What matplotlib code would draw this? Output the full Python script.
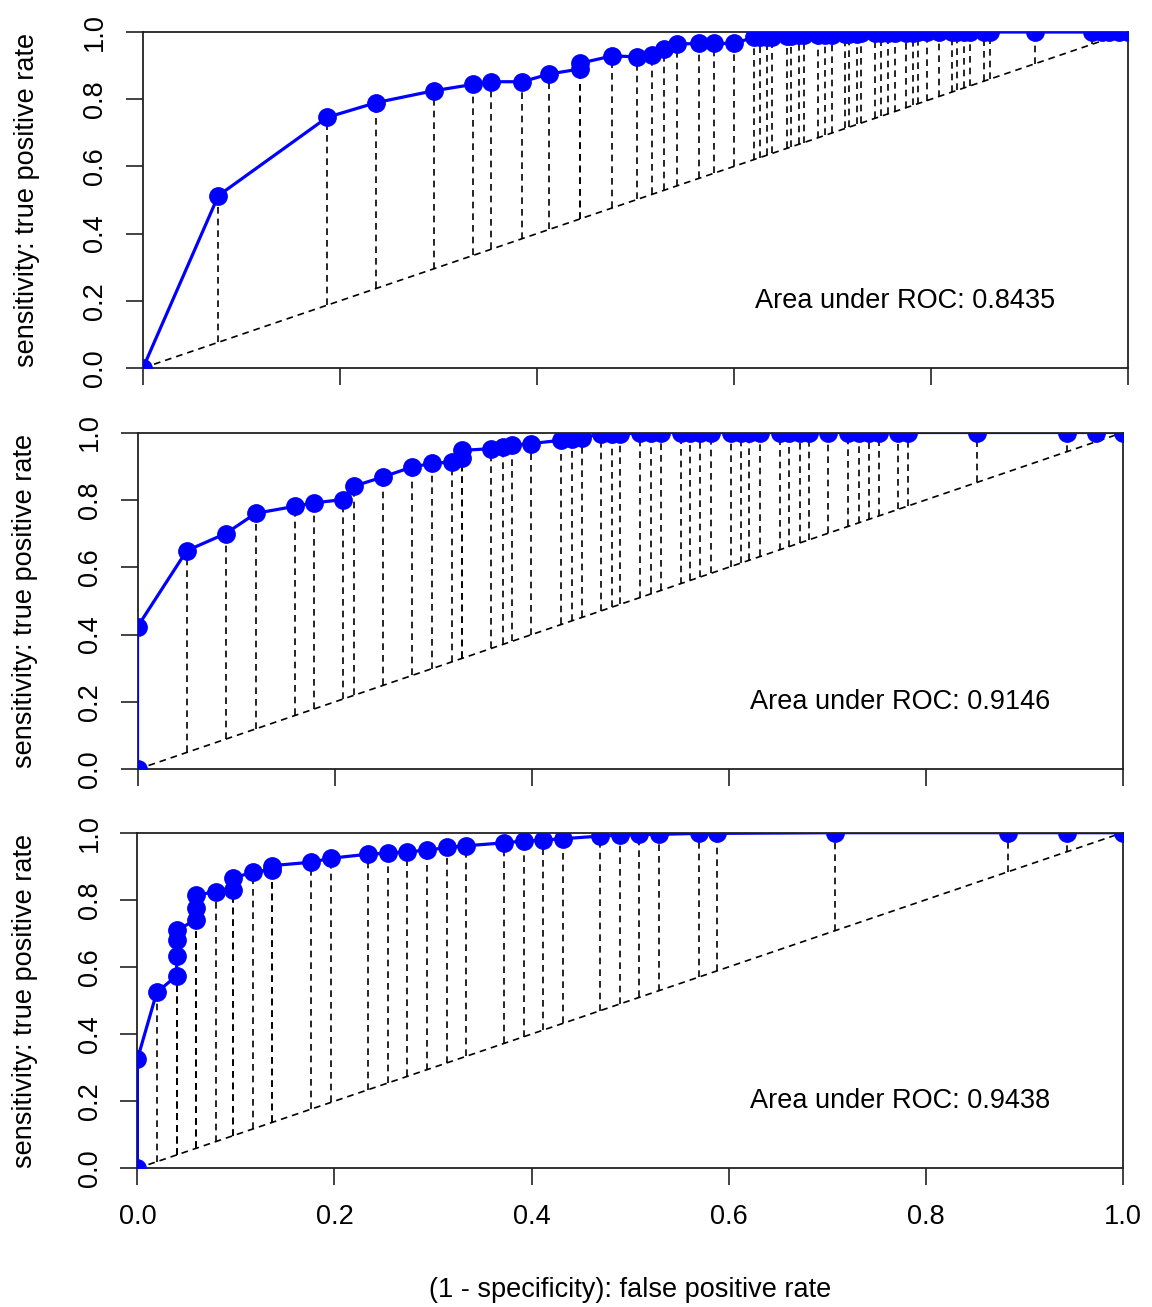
import numpy as np
import matplotlib
matplotlib.use("Agg")
import matplotlib.pyplot as plt

plt.rcParams['font.family'] = ['Liberation Sans', 'DejaVu Sans']

# panel 1
fpr1 = [0.0, 0.0765, 0.187, 0.237, 0.295, 0.335, 0.353, 0.385, 0.4125, 0.4437, 0.4437,
        0.4765, 0.502, 0.517, 0.529, 0.542, 0.564, 0.580, 0.600, 0.620, 0.626, 0.634,
        0.639, 0.654, 0.658, 0.666, 0.671, 0.685, 0.692, 0.699, 0.713, 0.717, 0.725,
        0.729, 0.743, 0.749, 0.756, 0.763, 0.775, 0.782, 0.787, 0.796, 0.808, 0.821,
        0.826, 0.833, 0.840, 0.854, 0.860, 0.906, 0.963, 0.9735, 0.9805, 0.991, 1.0]
tpr1 = [0.0, 0.513, 0.746, 0.790, 0.825, 0.844, 0.852, 0.852, 0.875, 0.890, 0.907,
        0.929, 0.926, 0.933, 0.948, 0.964, 0.966, 0.966, 0.966, 0.984, 0.984, 0.986,
        0.986, 0.988, 0.988, 0.990, 0.990, 0.990, 0.992, 0.992, 0.994, 0.994, 0.994,
        0.996, 0.996, 0.996, 0.998, 0.998, 0.998, 0.998, 1.0, 1.0, 1.0, 1.0,
        1.0, 1.0, 1.0, 1.0, 1.0, 1.0, 1.0, 1.0, 1.0, 1.0, 1.0]

# panel 2
fpr2 = [0.0, 0.0, 0.0499, 0.0895, 0.120, 0.160, 0.179, 0.209, 0.220, 0.249, 0.279,
        0.299, 0.3195, 0.3296, 0.3296, 0.359, 0.3706, 0.380, 0.399, 0.430, 0.441,
        0.451, 0.470, 0.481, 0.490, 0.510, 0.521, 0.531, 0.551, 0.561, 0.571, 0.582,
        0.602, 0.612, 0.621, 0.632, 0.652, 0.661, 0.672, 0.681, 0.701, 0.721, 0.732,
        0.742, 0.752, 0.772, 0.782, 0.852, 0.943, 0.973, 1.0]
tpr2 = [0.0, 0.423, 0.649, 0.700, 0.760, 0.781, 0.791, 0.801, 0.841, 0.868, 0.898,
        0.908, 0.913, 0.925, 0.947, 0.952, 0.957, 0.962, 0.967, 0.977, 0.982,
        0.985, 0.995, 0.995, 0.995, 1.0, 1.0, 1.0, 1.0, 1.0, 1.0, 1.0,
        1.0, 1.0, 1.0, 1.0, 1.0, 1.0, 1.0, 1.0, 1.0, 1.0, 1.0,
        1.0, 1.0, 1.0, 1.0, 1.0, 1.0, 1.0, 1.0]

# panel 3
fpr3 = [0.0, 0.0, 0.0196, 0.0399, 0.0399, 0.0399, 0.0399, 0.0595, 0.0595, 0.0595,
        0.0794, 0.0974, 0.0974, 0.1177, 0.137, 0.137, 0.1762, 0.1965, 0.2344, 0.254,
        0.274, 0.2942, 0.3145, 0.334, 0.3724, 0.3922, 0.4117, 0.4317, 0.4699, 0.4899,
        0.5094, 0.5294, 0.5698, 0.5884, 0.7082, 0.8838, 0.9433, 1.0]
tpr3 = [0.0, 0.325, 0.524, 0.574, 0.634, 0.680, 0.710, 0.740, 0.775, 0.814,
        0.824, 0.829, 0.864, 0.884, 0.890, 0.902, 0.912, 0.924, 0.936, 0.939,
        0.943, 0.948, 0.956, 0.961, 0.970, 0.975, 0.978, 0.982, 0.990, 0.993,
        0.995, 0.995, 0.998, 0.998, 1.0, 1.0, 1.0, 1.0]

aucs = [0.8435, 0.9146, 0.9438]

W, H = 1152, 1307
# axes boxes in pixels: left, top, right, bottom
boxes = [(143, 32, 1128, 368), (137.5, 432.5, 1123, 769.3), (137.4, 832.7, 1122.7, 1168.3)]
ylabel_x = [27, 25, 25]

fs = 19.5
dash = (0, (4, 3))
fig = plt.figure(figsize=(W / 100, H / 100), dpi=100)

panels = [(fpr1, tpr1), (fpr2, tpr2), (fpr3, tpr3)]
for i, (fpr, tpr) in enumerate(panels):
    l, t, r, b = boxes[i]
    ax = fig.add_axes([l / W, 1 - b / H, (r - l) / W, (b - t) / H])
    fpr = np.array(fpr)
    tpr = np.array(tpr)

    # chance diagonal and drop lines from each point
    ax.plot([0, 1], [0, 1], color='black', lw=1.2, linestyle=dash)
    ax.vlines(fpr, fpr, tpr, colors='black', lw=1.2, linestyles=[dash])
    ax.plot(fpr, tpr, color='blue', lw=2.3, marker='o', markersize=12.5,
            markeredgecolor='blue', markerfacecolor='blue', zorder=3)

    ax.text(0.774, 0.2, f"Area under ROC: {aucs[i]:.4f}", ha='center', va='center',
            fontsize=fs)

    ax.set_xlim(0, 1)
    ax.set_ylim(0, 1)
    ax.set_xticks(np.arange(0, 1.01, 0.2))
    ax.set_yticks(np.arange(0, 1.01, 0.2))
    ax.set_yticklabels([f"{v:.1f}" for v in np.arange(0, 1.01, 0.2)],
                       rotation=90, va='center', ha='right')
    if i < 2:
        ax.set_xticklabels([])
    else:
        ax.set_xticklabels([f"{v:.1f}" for v in np.arange(0, 1.01, 0.2)])
    ax.tick_params(axis='both', direction='out', length=12, width=1.2,
                   labelsize=fs, color='#222222')
    ax.tick_params(axis='y', pad=13)
    ax.tick_params(axis='x', pad=14)
    for s in ax.spines.values():
        s.set_linewidth(1.3)
        s.set_color('#222222')

    fig.text(ylabel_x[i] / W, 1 - (t + b) / 2 / H, "sensitivity: true positive rate",
             rotation=90, ha='center', va='center', fontsize=fs)

fig.text(630 / W, 1 - 1290 / H, "(1 - specificity): false positive rate",
         ha='center', va='center', fontsize=fs)

plt.savefig('out.png', dpi=100)
